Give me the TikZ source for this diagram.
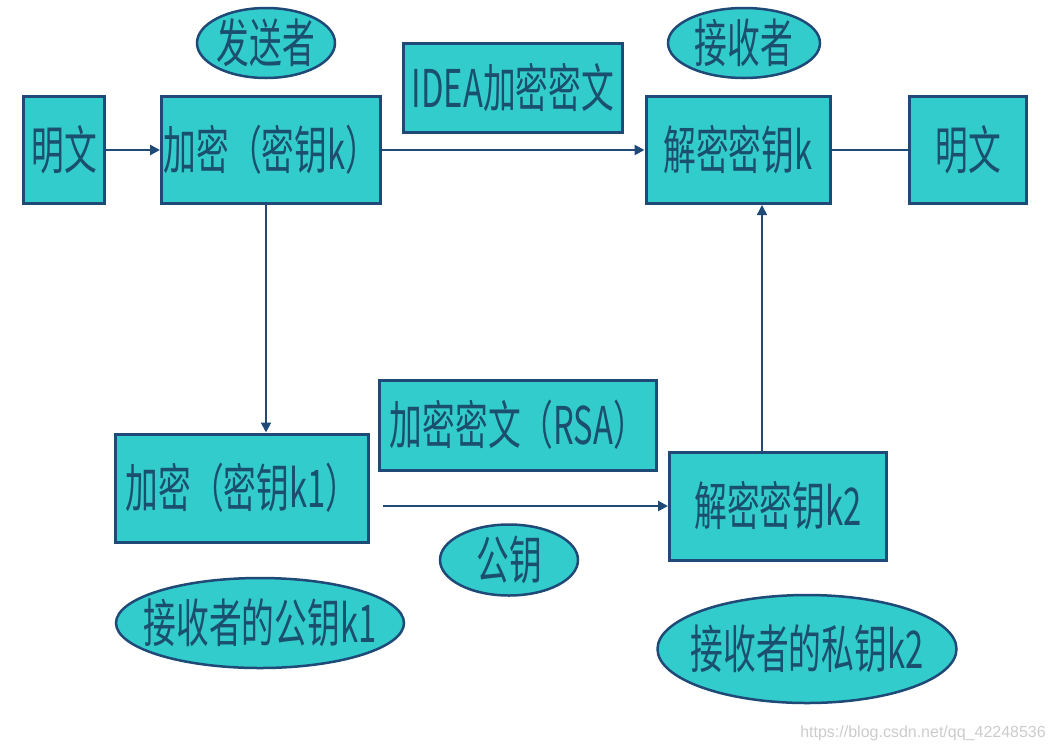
\documentclass[tikz,border=0pt]{standalone}
\usepackage{fontspec}
\newfontfamily\cjk[FakeStretch=0.63]{Noto Sans CJK SC}
\setmainfont{Liberation Sans}
\usetikzlibrary{shapes.geometric,arrows.meta}
\definecolor{boxfill}{HTML}{33CCCC}
\definecolor{boxline}{HTML}{1F4A78}
\definecolor{txt}{HTML}{1B4F6E}
\definecolor{wm}{HTML}{CCCCCC}
\newcommand{\ovtext}[1]{\makebox[0pt]{#1}}
\tikzset{
  box/.style={draw=boxline, line width=3pt, fill=boxfill, inner sep=0pt, text=txt,
    font=\cjk\fontsize{52}{52}\selectfont},
  oval/.style={ellipse, draw=boxline, line width=2.5pt, fill=boxfill, inner sep=0pt, text=txt,
    font=\cjk\fontsize{52}{52}\selectfont},
  conn/.style={draw=boxline, line width=2.8pt},
  tip/.style={-{Triangle[length=10pt,width=10pt]}}
}
\begin{document}
\begin{tikzpicture}[x=1pt,y=-1pt]
\useasboundingbox[fill=white] (0,0) rectangle (1056,750);
% boxes
\node[box, minimum width=81pt, minimum height=107pt] (p1) at (64,150) {明文};
\node[box, minimum width=219pt, minimum height=107pt] (enck) at (271,150) {加密（密钥k）};
\node[box, minimum width=219pt, minimum height=89pt] (idea) at (513,88) {IDEA加密密文};
\node[box, minimum width=184pt, minimum height=107pt] (deck) at (738,150) {解密密钥k};
\node[box, minimum width=117pt, minimum height=107pt] (p2) at (968,150) {明文};
\node[box, minimum width=253pt, minimum height=108pt] (enck1) at (242,488) {加密（密钥k1）};
\node[box, minimum width=277pt, minimum height=90pt] (rsa) at (518,425) {加密密文（RSA）};
\node[box, minimum width=217pt, minimum height=108pt] (deck2) at (778,506) {解密密钥k2};
% ellipses
\node[oval, minimum width=138pt, minimum height=70pt] (snd) at (266,43) {\ovtext{发送者}};
\node[oval, minimum width=152pt, minimum height=70pt] (rcv) at (744,43) {\ovtext{接收者}};
\node[oval, minimum width=138pt, minimum height=71pt] (pub) at (509,560) {\ovtext{公钥}};
\node[oval, minimum width=288pt, minimum height=90pt] (pubk1) at (260,623) {\ovtext{接收者的公钥k1}};
\node[oval, minimum width=299pt, minimum height=108pt] (privk2) at (807,649) {\ovtext{接收者的私钥k2}};
% watermark
\node[anchor=east, text=wm, font=\fontsize{16}{16}\selectfont, inner sep=0pt] (wmk) at (1046,733) {https://blog.csdn.net/qq\_42248536};
% connectors
\draw[conn, tip] (p1.east) -- (enck.west);
\draw[conn, tip] (enck.east) -- (deck.west);
\draw[conn] (deck.east) -- (p2.west);
\draw[conn, line width=2pt, tip] ([xshift=-5pt]enck.south) -- ([xshift=-5pt]enck.south |- enck1.north);
\coordinate (bstart) at (383,506);
\draw[conn, tip] (bstart) -- (deck2.west);
\draw[conn, line width=1.5pt, tip] ([xshift=-16pt]deck2.north) -- ([xshift=-16pt]deck2.north |- deck.south);
\end{tikzpicture}
\end{document}
